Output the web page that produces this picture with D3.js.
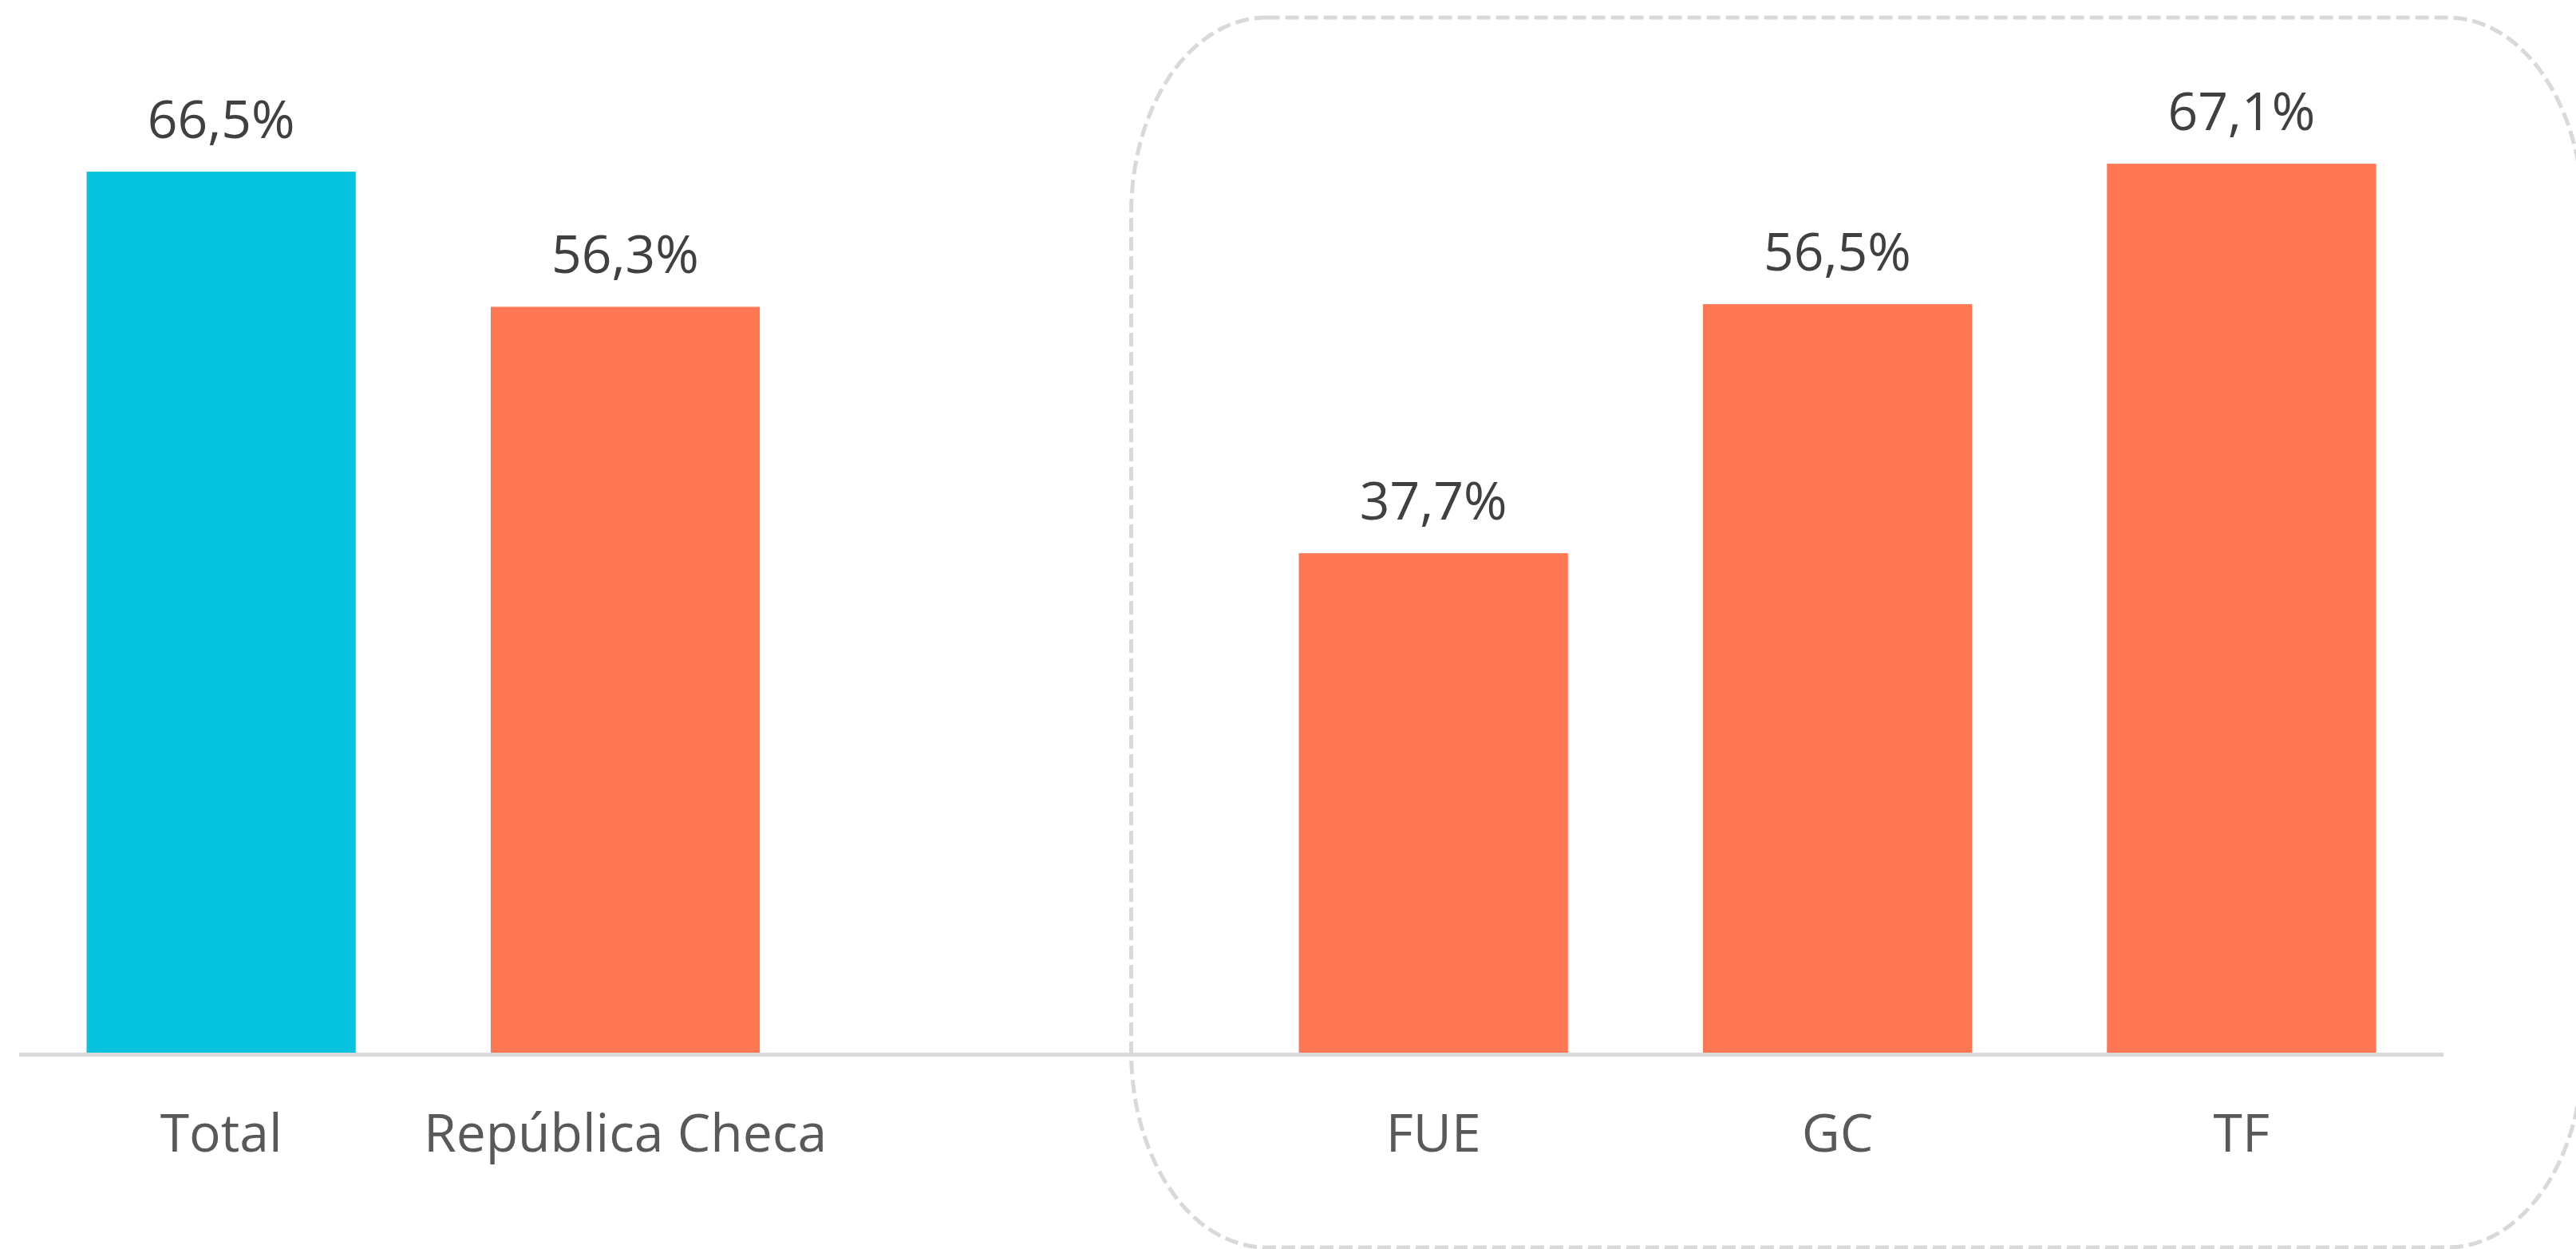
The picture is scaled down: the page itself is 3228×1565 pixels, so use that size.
<!DOCTYPE html>
<html>
<head>
<meta charset="utf-8">
<script src="https://cdn.jsdelivr.net/npm/d3@7"></script>
<style>
  html, body { margin: 0; padding: 0; background: #fff; }
  svg { display: block; }
</style>
</head>
<body>
<div id="chart"></div>
<script>
// slots on the x axis ("gap" is an empty slot between the two groups)
const slots = ["Total", "República Checa", "gap", "FUE", "GC", "TF"];
const categories = ["Total", "República Checa", "FUE", "GC", "TF"];
const values = [66.5, 56.3, 37.7, 56.5, 67.1];
const barColors = ["#05c3de", "#ff7853", "#ff7853", "#ff7853", "#ff7853"];
const islandGroup = ["FUE", "GC", "TF"];

const W = 3228, H = 1565;
const baseY = 1319;

const svg = d3.select("#chart").append("svg")
    .attr("width", W)
    .attr("height", H);

const x = d3.scaleBand()
    .domain(slots)
    .range([24, 3062])
    .paddingInner(0.334)
    .paddingOuter(0.167);

const y = d3.scaleLinear()
    .domain([0, 100])
    .range([baseY, baseY - 1660]);

const data = categories.map((c, i) => ({ cat: c, value: values[i], color: barColors[i] }));

// dashed rounded frame around the island group
const gx0 = x(islandGroup[0]) - 210;
const gx1 = x(islandGroup[islandGroup.length - 1]) + x.bandwidth() + 259;
const rx = 169, ry = 245, frameTop = 22, frameBottom = 1563;
svg.append("path")
    .attr("class", "groupFrame")
    .attr("d",
        `M${gx0 + rx},${frameTop} H${gx1 - rx} A${rx},${ry} 0 0 1 ${gx1},${frameTop + ry}` +
        ` V${frameBottom - ry} A${rx},${ry} 0 0 1 ${gx1 - rx},${frameBottom}` +
        ` H${gx0 + rx} A${rx},${ry} 0 0 1 ${gx0},${frameBottom - ry}` +
        ` V${frameTop + ry} A${rx},${ry} 0 0 1 ${gx0 + rx},${frameTop} Z`)
    .attr("fill", "none")
    .attr("stroke", "#d9d9d9")
    .attr("stroke-width", 5)
    .attr("stroke-dasharray", "17,7");

// bars
svg.selectAll(".bar")
    .data(data)
    .join("rect")
    .attr("class", "bar")
    .attr("x", d => x(d.cat))
    .attr("y", d => y(d.value))
    .attr("width", x.bandwidth())
    .attr("height", d => baseY - y(d.value))
    .attr("fill", d => d.color);

// axis line
svg.append("line")
    .attr("x1", x.range()[0])
    .attr("x2", x.range()[1])
    .attr("y1", baseY + 2.5)
    .attr("y2", baseY + 2.5)
    .attr("stroke", "#d9d9d9")
    .attr("stroke-width", 5);

// value labels
svg.selectAll(".valLabel")
    .data(data)
    .join("text")
    .attr("class", "valLabel")
    .attr("x", d => x(d.cat) + x.bandwidth() / 2)
    .attr("y", d => y(d.value) - 42)
    .attr("text-anchor", "middle")
    .style("font-family", "'Open Sans', 'Noto Sans', sans-serif")
    .style("font-size", "66px")
    .style("fill", "#404040")
    .text(d => d.value.toFixed(1).replace(".", ",") + "%");

// category labels
svg.selectAll(".catLabel")
    .data(data)
    .join("text")
    .attr("class", "catLabel")
    .attr("x", d => x(d.cat) + x.bandwidth() / 2)
    .attr("y", 1443)
    .attr("text-anchor", "middle")
    .style("font-family", "'Open Sans', 'Noto Sans', sans-serif")
    .style("font-size", "66px")
    .style("fill", "#595959")
    .text(d => d.cat);
</script>
</body>
</html>
